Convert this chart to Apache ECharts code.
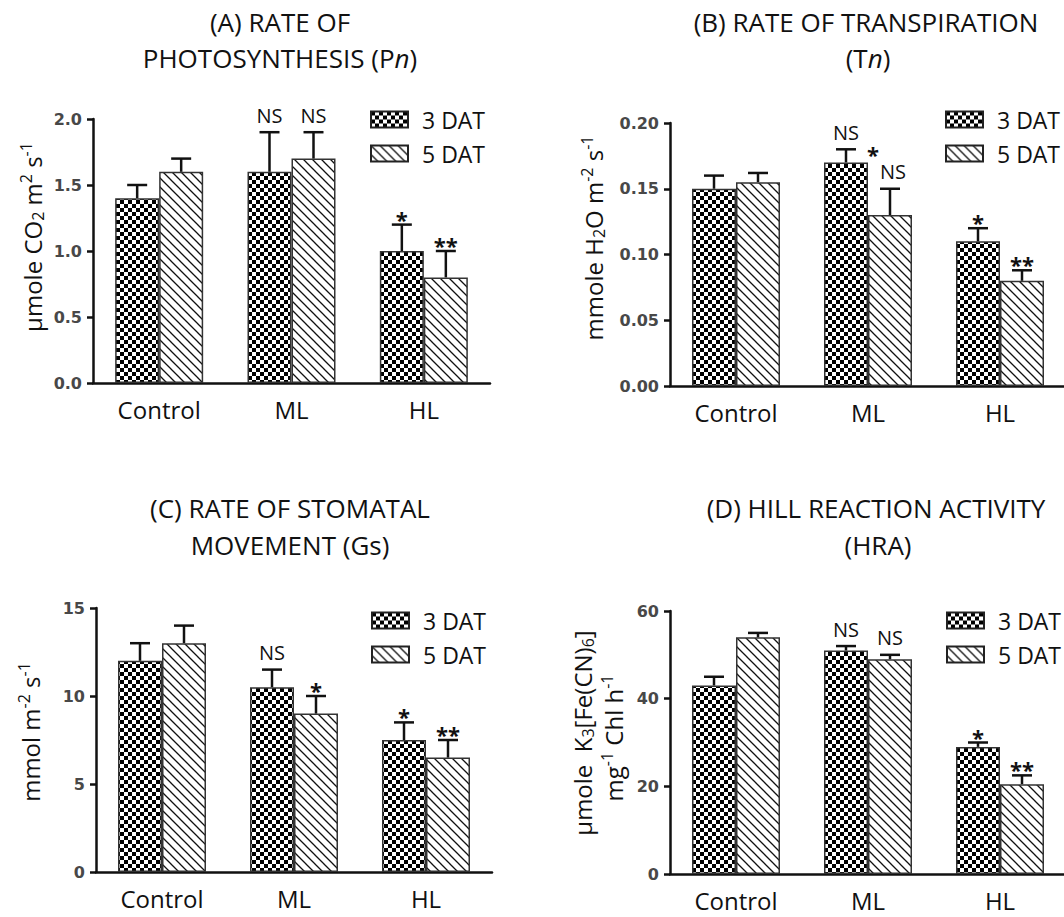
<!DOCTYPE html>
<html><head><meta charset="utf-8">
<script src="https://cdn.jsdelivr.net/npm/echarts@6/dist/echarts.min.js"></script>
<style>html,body{margin:0;padding:0;background:#fff}#c{width:1064px;height:917px}</style>
</head><body><div id="c"></div>
<script>
// ---------- DATA ----------
const categories = ['Control', 'ML', 'HL'];
const seriesNames = ['3 DAT', '5 DAT'];

// (A) Rate of photosynthesis
const pnDAT3 = [1.4, 1.6, 1.0];
const pnDAT5 = [1.6, 1.7, 0.8];
const pnErr3 = [0.1, 0.3, 0.2];
const pnErr5 = [0.1, 0.2, 0.2];
const pnSig3 = ['', 'NS', '*'];
const pnSig5 = ['', 'NS', '**'];
const pnAxis = [0, 2.0, 0.5];      // min, max, interval

// (B) Rate of transpiration
const tnDAT3 = [0.150, 0.170, 0.110];
const tnDAT5 = [0.155, 0.130, 0.080];
const tnErr3 = [0.010, 0.010, 0.010];
const tnErr5 = [0.007, 0.020, 0.008];
const tnSig3 = ['', 'NS', '*'];
const tnSig5 = ['', '*|NS', '**'];
const tnAxis = [0, 0.20, 0.05];

// (C) Rate of stomatal movement
const gsDAT3 = [12, 10.5, 7.5];
const gsDAT5 = [13, 9.0, 6.5];
const gsErr3 = [1, 1, 1];
const gsErr5 = [1, 1, 1];
const gsSig3 = ['', 'NS', '*'];
const gsSig5 = ['', '*', '**'];
const gsAxis = [0, 15, 5];

// (D) Hill reaction activity
const hraDAT3 = [43, 51, 29];
const hraDAT5 = [54, 49, 20.5];
const hraErr3 = [2, 1, 1];
const hraErr5 = [1, 1, 2];
const hraSig3 = ['', 'NS', '*'];
const hraSig5 = ['', 'NS', '**'];
const hraAxis = [0, 60, 20];

// ---------- STYLE ----------
const FONT = 'Open Sans';
const INK = '#111';
const BAR_W = 44;

function checkerPattern() {
  const c = document.createElement('canvas');
  c.width = 8; c.height = 8;
  const g = c.getContext('2d');
  g.fillStyle = '#fff'; g.fillRect(0, 0, 8, 8);
  g.fillStyle = '#000'; g.fillRect(0, 0, 4, 4); g.fillRect(4, 4, 4, 4);
  return { image: c, repeat: 'repeat', imageWidth: 8, imageHeight: 8 };
}
function hatchPattern() {
  const s = 9;
  const c = document.createElement('canvas');
  c.width = s; c.height = s;
  const g = c.getContext('2d');
  g.fillStyle = '#fff'; g.fillRect(0, 0, s, s);
  g.strokeStyle = '#111'; g.lineWidth = 1.3;
  g.beginPath();
  g.moveTo(-1, -1); g.lineTo(s + 1, s + 1);
  g.moveTo(-2, s - 2); g.lineTo(2, s + 2);
  g.moveTo(s - 2, -2); g.lineTo(s + 2, 2);
  g.stroke();
  return { image: c, repeat: 'repeat', imageWidth: s, imageHeight: s };
}
const CHECK = checkerPattern();
const HATCH = hatchPattern();

const panels = [
  { d3: pnDAT3, d5: pnDAT5, e3: pnErr3, e5: pnErr5, s3: pnSig3, s5: pnSig5, axis: pnAxis, dec: 1 },
  { d3: tnDAT3, d5: tnDAT5, e3: tnErr3, e5: tnErr5, s3: tnSig3, s5: tnSig5, axis: tnAxis, dec: 2 },
  { d3: gsDAT3, d5: gsDAT5, e3: gsErr3, e5: gsErr5, s3: gsSig3, s5: gsSig5, axis: gsAxis, dec: 0 },
  { d3: hraDAT3, d5: hraDAT5, e3: hraErr3, e5: hraErr5, s3: hraSig3, s5: hraSig5, axis: hraAxis, dec: 0 }
];
const gridLayout = [
  { left: 93, top: 119, width: 397, height: 264 },
  { left: 670, top: 123, width: 396, height: 263 },
  { left: 96, top: 608, width: 396, height: 264 },
  { left: 670, top: 611, width: 396, height: 263 }
];
const legendPos = [
  { left: 370, top: 108 },
  { left: 945, top: 108 },
  { left: 371, top: 609 },
  { left: 946, top: 609 }
];

function sigText(t, x, y) {
  const star = t.indexOf('*') >= 0;
  const fs = star ? 22 : 20;
  return {
    type: 'text', x: x, y: y + (star ? 0 : -11),
    style: {
      text: t, fontFamily: FONT, fontSize: fs, lineHeight: fs, fontWeight: star ? 'bold' : 'normal',
      fill: INK, align: 'center', verticalAlign: 'middle', textAlign: 'center', textVerticalAlign: 'middle'
    }
  };
}

function makeRender(sig3, sig5) {
  return function (params, api) {
    const i = api.value(0), v = api.value(1), e = api.value(2), s = api.value(3);
    const p0 = api.coord([i, v]);
    const p1 = api.coord([i, v + e]);
    const x = p0[0] + (s === 0 ? -BAR_W / 2 : BAR_W / 2);
    const ls = { stroke: INK, lineWidth: 2.5 };
    const ch = [
      { type: 'line', shape: { x1: x, y1: p0[1], x2: x, y2: p1[1] }, style: ls },
      { type: 'line', shape: { x1: x - 10, y1: p1[1], x2: x + 10, y2: p1[1] }, style: ls }
    ];
    const txt = (s === 0 ? sig3 : sig5)[i];
    if (txt) {
      const parts = txt.split('|');
      if (parts.length > 1) {
        ch.push(sigText(parts[1], x + 3, p1[1] - 6));
        ch.push(sigText(parts[0], x - 17, p1[1] - 35));
      } else {
        ch.push(sigText(parts[0], x, p1[1] - 6));
      }
    }
    return { type: 'group', children: ch };
  };
}

const grid = [], xAxis = [], yAxis = [], series = [], legend = [];
panels.forEach(function (p, k) {
  grid.push(Object.assign({ containLabel: false, outerBoundsMode: 'none' }, gridLayout[k]));
  xAxis.push({
    type: 'category', gridIndex: k, data: categories,
    axisLine: { lineStyle: { color: INK, width: 2.5 } },
    axisTick: { alignWithLabel: true, length: 6, lineStyle: { color: INK, width: 2.5 } },
    axisLabel: { fontFamily: FONT, fontSize: 24, color: INK, margin: 14 }
  });
  yAxis.push({
    type: 'value', gridIndex: k, min: p.axis[0], max: p.axis[1], interval: p.axis[2],
    splitLine: { show: false },
    axisLine: { show: true, lineStyle: { color: INK, width: 2.5 } },
    axisTick: { show: true, length: 6, lineStyle: { color: INK, width: 2.5 } },
    axisLabel: {
      fontFamily: 'DejaVu Sans', fontWeight: 'bold', fontSize: 16, color: '#484848', margin: 11,
      formatter: (function (d) { return function (v) { return Number(v).toFixed(d); }; })(p.dec)
    }
  });
  series.push({
    type: 'bar', name: seriesNames[0], xAxisIndex: k, yAxisIndex: k, data: p.d3,
    barWidth: BAR_W, barGap: '0%',
    itemStyle: { color: CHECK, borderColor: '#333', borderWidth: 1.5 }
  });
  series.push({
    type: 'bar', name: seriesNames[1], xAxisIndex: k, yAxisIndex: k, data: p.d5,
    barWidth: BAR_W, barGap: '0%',
    itemStyle: { color: HATCH, borderColor: '#333', borderWidth: 1.5 }
  });
  const errData = [];
  for (let i = 0; i < categories.length; i++) {
    errData.push([i, p.d3[i], p.e3[i], 0]);
    errData.push([i, p.d5[i], p.e5[i], 1]);
  }
  series.push({
    type: 'custom', name: 'err' + k, xAxisIndex: k, yAxisIndex: k, z: 5, clip: false,
    renderItem: makeRender(p.s3, p.s5), encode: { x: 0, y: 1 }, data: errData, silent: true
  });
  legend.push({
    data: seriesNames, orient: 'vertical', left: legendPos[k].left, top: legendPos[k].top,
    padding: 0, itemWidth: 37, itemHeight: 16, itemGap: 11, icon: 'rect', selectedMode: false,
    itemStyle: { borderColor: '#222', borderWidth: 2 },
    textStyle: { fontFamily: FONT, fontSize: 23, color: INK, padding: [0, 0, 0, 9] }
  });
});

const SUBSUP = {
  sub: { fontFamily: FONT, fontSize: 16, fill: INK, padding: [11, 0, 0, 0] },
  sup: { fontFamily: FONT, fontSize: 16, fill: INK, padding: [0, 0, 12, 0] },
  i: { fontFamily: FONT, fontSize: 26, fontStyle: 'italic', fill: INK }
};
function txt(text, x, y, size, rot) {
  return {
    type: 'text', x: x, y: y, rotation: rot ? Math.PI / 2 : 0, silent: true,
    style: {
      text: text, fontFamily: FONT, fontSize: size, fill: INK, rich: SUBSUP,
      align: 'center', verticalAlign: 'middle', textAlign: 'center', textVerticalAlign: 'middle'
    }
  };
}
const graphic = [
  txt('(A) RATE OF', 280, 22, 26),
  txt('PHOTOSYNTHESIS (P{i|n})', 280, 58, 26),
  txt('(B) RATE OF TRANSPIRATION', 866, 22, 26),
  txt('(T{i|n})', 868, 58, 26),
  txt('(C) RATE OF STOMATAL', 290, 508, 26),
  txt('MOVEMENT (Gs)', 290, 545, 26),
  txt('(D) HILL REACTION ACTIVITY', 876, 508, 26),
  txt('(HRA)', 878, 545, 26),
  txt('μmole CO{sub|2} m{sup|2} s{sup|-1}', 32, 237, 24, true),
  txt('mmole H{sub|2}O m{sup|-2} s{sup|-1}', 593, 238, 24, true),
  txt('mmol m{sup|-2} s{sup|-1}', 30, 732, 24, true),
  txt('μmole  K{sub|3}[Fe(CN){sub|6}]', 582, 733, 24, true),
  txt('mg{sup|-1} Chl h{sup|-1}', 613, 738, 24, true)
];

const chart = echarts.init(document.getElementById('c'), null, { renderer: 'svg', width: 1064, height: 917 });
chart.setOption({
  backgroundColor: '#fff',
  animation: false,
  grid: grid, xAxis: xAxis, yAxis: yAxis, series: series, legend: legend,
  graphic: { elements: graphic }
});
</script>
</body></html>
